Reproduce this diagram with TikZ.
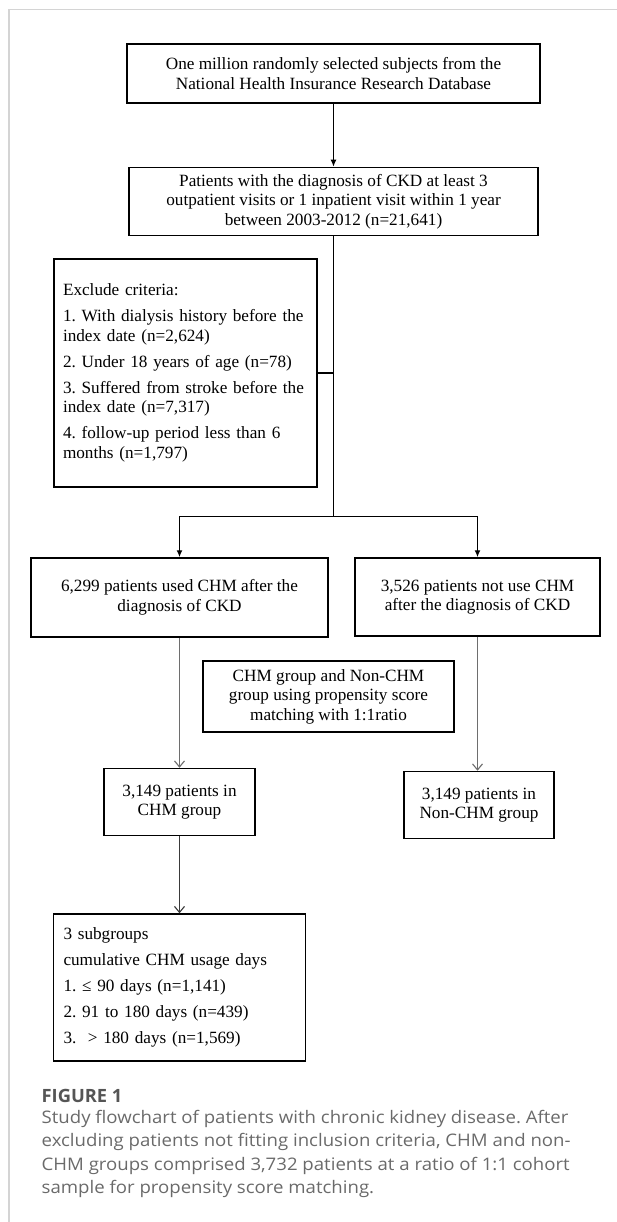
\documentclass[tikz,border=0pt]{standalone}
\usepackage{fontspec}
\setmainfont{Liberation Serif}
\newfontfamily\capfont[FakeStretch=1.075]{Open Sans}
\newfontfamily\figfont{Open Sans}
\usetikzlibrary{arrows.meta, positioning, calc}
\definecolor{framegray}{HTML}{D4D4D4}
\definecolor{arrowgray}{HTML}{6E6E6E}
\definecolor{subgray}{HTML}{3A3A3A}
\definecolor{capgray}{HTML}{6A6A6A}
\definecolor{figgray}{HTML}{555555}

\begin{document}
\begin{tikzpicture}[x=1pt, y=1pt,
    every node/.style={font=\fontsize{17.2}{19.5}\selectfont\frenchspacing},
    box/.style={rectangle, draw=black, line width=1.5pt, align=center, inner sep=0pt},
    listbox/.style={box, align=left, inner xsep=9pt},
    link/.style={draw, line width=1.5pt},
    line/.style={draw, line width=1.5pt, -{Latex[length=7pt,width=6pt]}},
    thinline/.style={draw=arrowgray, line width=1.1pt, -{Straight Barb[length=6pt,width=10pt]}}]

\useasboundingbox (0,0) rectangle (617,-1222);

% Frame
\draw[framegray, line width=1.5pt] (617,-9.5) -- (9,-9.5) -- (9,-1222);

% Cohort selection
\node[box, minimum width=413pt, minimum height=59pt] (top) at (333.5,-73.5) {One million randomly selected subjects from the\\National Health Insurance Research Database};
\node[box, minimum width=409pt, minimum height=68pt, below=63pt of top] (ckd) {Patients with the diagnosis of CKD at least 3\\outpatient visits or 1 inpatient visit within 1 year\\between 2003-2012 (n=21,641)};
\node[listbox, text width=245pt, minimum height=228pt] (excl) at (185.5,-373) {Exclude criteria:\\[6.5pt]
  1. With dialysis history before the\\index date (n=2,624)\\[6.5pt]
  2. Under 18 years of age (n=78)\\[6.5pt]
  3. Suffered from stroke before the\\index date (n=7,317)\\[6.5pt]
  4. follow-up period less than 6\\months (n=1,797)};

% CHM use
\node[box, minimum width=297pt, minimum height=79pt] (used) at (179.5,-597.5) {6,299 patients used CHM after the\\diagnosis of CKD};
\node[box, minimum width=245pt, minimum height=78pt] (notuse) at (477.5,-597) {3,526 patients not use CHM\\after the diagnosis of CKD};

% Matching
\node[box, minimum width=251pt, minimum height=71pt] (match) at (328.5,-696.5) {CHM group and Non-CHM\\group using propensity score\\matching with 1:1ratio};
\node[box, minimum width=151pt, minimum height=67pt, below=130pt of used] (chm) {3,149 patients in\\CHM group};
\node[box, minimum width=150pt, minimum height=67pt, below=134pt of notuse, xshift=1.5pt] (nonchm) {3,149 patients in\\Non-CHM group};

% Subgroups
\node[listbox, text width=232pt, inner xsep=10pt, minimum height=147pt, below=77pt of chm] (sub) {3 subgroups\\[6.5pt]
  cumulative CHM usage days\\[6.5pt]
  1. ≤ 90 days (n=1,141)\\[6.5pt]
  2. 91 to 180 days (n=439)\\[6.5pt]
  3.\ \ > 180 days (n=1,569)};

% Caption
\node[font=\figfont\bfseries\fontsize{18.3}{20}\selectfont, text=figgray, anchor=west, inner sep=0pt] (figlabel) at (41.5,-1096) {FIGURE 1};
\node[font=\capfont\fontsize{17.3}{23.4}\selectfont\frenchspacing, text=capgray, anchor=north west, align=left, inner sep=0pt] (caption) at (41.5,-1110) {Study flowchart of patients with chronic kidney disease. After\\excluding patients not fitting inclusion criteria, CHM and non-\\CHM groups comprised 3,732 patients at a ratio of 1:1 cohort\\sample for propensity score matching.};

% Paths
\coordinate (split) at ($(ckd.south)+(0,-280)$);
\draw [line] (top) -- (ckd);
\draw [link] (ckd.south) -- (split);
\draw [link] (excl.east) -- (excl.east -| split);
\draw [line] (split) -| (used.north);
\draw [line] (split) -| (notuse.north);
\draw [thinline] (used) -- (chm);
\draw [thinline] (notuse.south) -- (notuse.south |- nonchm.north);
\draw [thinline, draw=subgray] (chm) -- (sub);

\end{tikzpicture}
\end{document}
